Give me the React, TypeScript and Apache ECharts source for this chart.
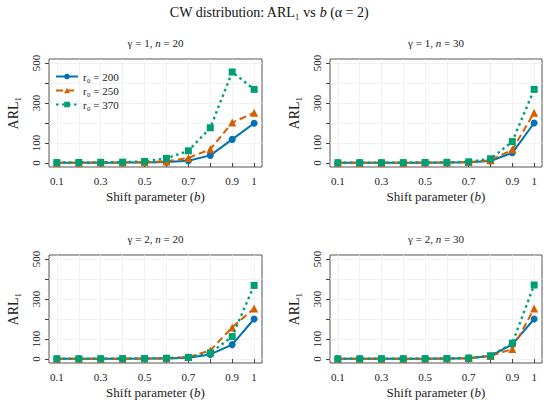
import React, { useEffect, useRef } from "react";
import * as echarts from "echarts";

const shiftValues = [0.1, 0.2, 0.3, 0.4, 0.5, 0.6, 0.7, 0.8, 0.9, 1.0];
const xTickLabels = [0.1, 0.3, 0.5, 0.7, 0.9, 1];
const yTicks = [0, 100, 200, 300, 400, 500];
const yTickLabels = [0, 100, 300, 500];
const seriesNames = ["r₀ = 200", "r₀ = 250", "r₀ = 370"];

const panelTitles = [
  ["γ = 1, ", "20"],
  ["γ = 1, ", "30"],
  ["γ = 2, ", "20"],
  ["γ = 2, ", "30"],
];

// gamma=1, n=20
const g1n20_200 = [1.2, 1.4, 1.7, 2.1, 2.8, 4.5, 11, 38, 118, 199];
const g1n20_250 = [1.5, 1.8, 2.2, 2.9, 4, 8, 25, 69, 202, 251];
const g1n20_370 = [2.2, 2.7, 3.3, 4.4, 8, 23, 61, 176, 455, 368];
// gamma=1, n=30
const g1n30_200 = [1.1, 1.2, 1.3, 1.5, 1.8, 2.3, 3.5, 10, 51, 200];
const g1n30_250 = [1.2, 1.3, 1.5, 1.7, 2, 2.6, 4.5, 14, 67, 251];
const g1n30_370 = [1.3, 1.5, 1.7, 2, 2.4, 3.2, 6, 21, 107, 368];
// gamma=2, n=20
const g2n20_200 = [1, 1.1, 1.3, 1.5, 1.9, 2.8, 6, 23, 72, 200];
const g2n20_250 = [1.1, 1.2, 1.4, 1.7, 2.3, 3.6, 10, 43, 158, 253];
const g2n20_370 = [1.2, 1.4, 1.6, 2, 2.6, 3.8, 8, 30, 112, 368];
// gamma=2, n=30
const g2n30_200 = [1, 1.1, 1.2, 1.3, 1.6, 2.1, 4, 15, 73, 200];
const g2n30_250 = [1, 1.1, 1.2, 1.4, 1.7, 2.3, 4.5, 15, 50, 253];
const g2n30_370 = [1.1, 1.2, 1.3, 1.5, 1.9, 2.6, 5, 16, 79, 370];

const panels = [
  [g1n20_200, g1n20_250, g1n20_370],
  [g1n30_200, g1n30_250, g1n30_370],
  [g2n20_200, g2n20_250, g2n20_370],
  [g2n30_200, g2n30_250, g2n30_370],
];

const FONT = "Liberation Serif";
const colors = ["#0072B2", "#D55E00", "#009E73"];
const symbols = ["circle", "triangle", "rect"];
const lineTypes: any[] = ["solid", [7, 4], [2.5, 3.5]];
const symbolSizes = [7, 8, 7];

const grids = [
  { left: 49, top: 59, width: 213, height: 108 },
  { left: 330, top: 59, width: 212, height: 108 },
  { left: 49, top: 255, width: 213, height: 108 },
  { left: 330, top: 255, width: 212, height: 108 },
];

export default function App() {
  const ref = useRef<HTMLDivElement>(null);
  useEffect(() => {
    if (!ref.current) return;
    const chart = echarts.init(ref.current, undefined, { renderer: "svg" });

    const xAxis = grids.map((_, i) => ({
      type: "value",
      gridIndex: i,
      min: 0.064,
      max: 1.036,
      name: "Shift parameter ({i|b})",
      nameLocation: "middle",
      nameGap: 23,
      nameTextStyle: {
        fontFamily: FONT,
        fontSize: 13,
        color: "#222",
        rich: { i: { fontFamily: FONT, fontSize: 13, fontStyle: "italic", color: "#222" } },
      },
      axisLine: { show: false },
      axisTick: {
        show: true,
        length: 4,
        customValues: shiftValues,
        lineStyle: { color: "#444", width: 1 },
      },
      axisLabel: {
        customValues: xTickLabels,
        margin: 8,
        fontFamily: FONT,
        fontSize: 11,
        color: "#222",
        formatter: (v: number) => String(Number(v.toFixed(2))),
      },
      splitLine: { show: true, lineStyle: { color: "#efefef", width: 0.8 } },
    }));

    const yAxis = grids.map((_, i) => ({
      type: "value",
      gridIndex: i,
      min: -20,
      max: 520,
      name: "ARL₁",
      nameLocation: "middle",
      nameGap: 29,
      nameRotate: 90,
      nameTextStyle: { fontFamily: FONT, fontSize: 14, color: "#222" },
      axisLine: { show: false },
      axisTick: {
        show: true,
        length: 4,
        customValues: yTicks,
        lineStyle: { color: "#444", width: 1 },
      },
      axisLabel: {
        customValues: yTickLabels,
        rotate: 90,
        margin: 8,
        fontFamily: FONT,
        fontSize: 11,
        color: "#222",
      },
      splitLine: { show: true, lineStyle: { color: "#efefef", width: 0.8 } },
    }));

    const series: any[] = [];
    panels.forEach((panel, pi) => {
      panel.forEach((vals, si) => {
        series.push({
          type: "line",
          name: seriesNames[si],
          xAxisIndex: pi,
          yAxisIndex: pi,
          data: shiftValues.map((x, k) => [x, vals[k]]),
          symbol: symbols[si],
          symbolSize: symbolSizes[si],
          showSymbol: true,
          itemStyle: { color: colors[si] },
          lineStyle: { color: colors[si], width: si === 2 ? 2.4 : 2, type: lineTypes[si] },
          z: 2 + si,
        });
      });
    });

    const titleGraphics: any[] = panelTitles.map((t, i) => {
      const g = grids[i];
      return {
        type: "text",
        x: g.left + g.width / 2,
        y: g.top - 16,
        style: {
          text: t[0] + "{i|n} = " + t[1],
          fontFamily: FONT,
          fontSize: 11,
          fill: "#222",
          textAlign: "center",
          textVerticalAlign: "middle",
          rich: { i: { fontFamily: FONT, fontSize: 11, fontStyle: "italic", fill: "#222" } },
        },
      };
    });

    titleGraphics.push({
      type: "text",
      x: 269,
      y: 12,
      style: {
        text: "CW distribution: ARL₁ vs {i|b} (α = 2)",
        fontFamily: FONT,
        fontSize: 14,
        fill: "#111",
        textAlign: "center",
        textVerticalAlign: "middle",
        rich: { i: { fontFamily: FONT, fontSize: 14, fontStyle: "italic", fill: "#111" } },
      },
    });

    chart.setOption({
      animation: false,
      backgroundColor: "#ffffff",
      textStyle: { fontFamily: FONT },
      grid: grids.map((g) => ({
        ...g,
        show: true,
        borderColor: "#555",
        borderWidth: 1,
        backgroundColor: "transparent",
        containLabel: false,
      })),
      xAxis,
      yAxis,
      legend: {
        data: seriesNames,
        orient: "vertical",
        left: 50,
        top: 66,
        itemWidth: 22,
        itemHeight: 7,
        itemGap: 3,
        textStyle: { fontFamily: FONT, fontSize: 11, color: "#222" },
      },
      graphic: titleGraphics,
      series,
    });

    return () => chart.dispose();
  }, []);

  return (
    <div
      ref={ref}
      style={{ position: "fixed", left: 0, top: 0, width: 550, height: 405, background: "#fff" }}
    />
  );
}
